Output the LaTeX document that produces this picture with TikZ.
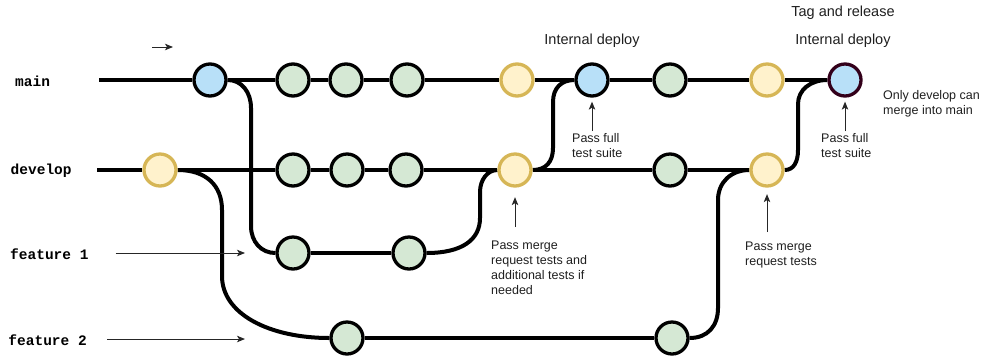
\documentclass[tikz,border=0pt]{standalone}
\usepackage{fontspec}
\setmainfont{Liberation Sans}
\newfontfamily\labelfont{Liberation Mono}
\usetikzlibrary{arrows.meta,backgrounds}
\definecolor{cblue}{HTML}{B8E0F8}
\definecolor{cgreen}{HTML}{D5E8D4}
\definecolor{cyfill}{HTML}{FFF2CC}
\definecolor{cystroke}{HTML}{D6B656}
\definecolor{cdark}{HTML}{33001A}
\begin{document}
\begin{tikzpicture}[x=1pt,y=-1pt,
 commit/.style={circle,draw=black,line width=3.3pt,minimum size=32pt,inner sep=0pt},
 gc/.style={commit,fill=cgreen},
 bc/.style={commit,fill=cblue},
 yc/.style={commit,fill=cyfill,draw=cystroke},
 branch/.style={line width=4pt,draw=black},
 ann/.style={line width=1pt,draw=black!85,-{Stealth[length=8pt,width=6.5pt,inset=2pt]}},
 lbl/.style={font=\labelfont\bfseries\fontsize{14.5}{17}\selectfont,inner sep=0pt,anchor=west},
 note/.style={font=\fontsize{12.5}{15}\selectfont,text=black!88,inner sep=0pt,align=left,anchor=north west},
 head/.style={font=\fontsize{14.5}{17}\selectfont,text=black!88,inner sep=0pt}]
\useasboundingbox (0,0) rectangle (984,360);

% branch labels
\node[lbl] (lm) at (15,81) {main};
\node[lbl] (ld) at (10.5,171) {develop};
\node[lbl] (lf1) at (10,254) {feature 1};
\node[lbl] (lf2) at (8.3,340) {feature 2};

% main commits
\node[bc] (m1) at (210,80) {};
\node[gc] (m2) at (293,80) {};
\node[gc] (m3) at (346,80) {};
\node[gc] (m4) at (407,80) {};
\node[yc] (m5) at (517,80) {};
\node[bc] (m6) at (592,80) {};
\node[gc] (m7) at (670,80) {};
\node[yc] (m8) at (767,80) {};
\node[bc,draw=cdark] (m9) at (845,80) {};

% develop commits
\node[yc] (d1) at (160,170) {};
\node[gc] (d2) at (293,170) {};
\node[gc] (d3) at (347,170) {};
\node[gc] (d4) at (406,170) {};
\node[yc] (d5) at (515,170) {};
\node[gc] (d6) at (670,170) {};
\node[yc] (d7) at (767,170) {};

% feature commits
\node[gc] (f1) at (293,253) {};
\node[gc] (f2) at (409,253) {};
\node[gc] (g1) at (347,338) {};
\node[gc] (g2) at (672,338) {};

% helper coordinates
\coordinate (mstart) at (99,80);
\coordinate (dstart) at (97,170);
\coordinate (c1a) at (251,108);
\coordinate (c1b) at (251,226);
\coordinate (c2a) at (222,210);
\coordinate (c2b) at (222,276);
\coordinate (c3a) at (480,218);
\coordinate (c3b) at (480,192);
\coordinate (c4a) at (553,148);
\coordinate (c4b) at (553,102);
\coordinate (c5a) at (718,308);
\coordinate (c5b) at (718,200);
\coordinate (c6a) at (798,150);
\coordinate (c6b) at (798,104);

\begin{scope}[on background layer]
\draw[branch] (mstart) -- (m1) -- (m2) -- (m3) -- (m4) -- (m5) -- (m6) -- (m7) -- (m8) -- (m9);
\draw[branch] (dstart) -- (d1) -- (d2) -- (d3) -- (d4) -- (d5) -- (d6) -- (d7);
\draw[branch] (f1) -- (f2);
\draw[branch] (g1) -- (g2);
\draw[branch] (m1.east) .. controls +(14,0) and +(0,-16) .. (c1a) -- (c1b) .. controls +(0,16) and +(-14,0) .. (f1.west);
\draw[branch] (d1.east) .. controls +(28,0) and +(0,-25) .. (c2a) -- (c2b) .. controls +(0,38) and +(-60,0) .. (g1.west);
\draw[branch] (f2.east) .. controls +(35,0) and +(0,22) .. (c3a) -- (c3b) .. controls +(0,-12) and +(-10,0) .. (d5.west);
\draw[branch] (d5.east) .. controls +(13,0) and +(0,14) .. (c4a) -- (c4b) .. controls +(0,-14) and +(-13,0) .. (m6.west);
\draw[branch] (g2.east) .. controls +(18,0) and +(0,18) .. (c5a) -- (c5b) .. controls +(0,-18) and +(-18,0) .. (d7.west);
\draw[branch] (d7.east) .. controls +(9,0) and +(0,12) .. (c6a) -- (c6b) .. controls +(0,-14) and +(-17,0) .. (m9.west);
\end{scope}

% headings
\node[head] (t1) at (592,40.5) {Internal deploy};
\node[head] (t2) at (843,40.5) {Internal deploy};
\node[head] (t3) at (843,12.5) {Tag and release};

% notes
\node[note] (n1) at (572,133.5) {Pass full\\test suite};
\node[note] (n2) at (821,133.5) {Pass full\\test suite};
\node[note] (n3) at (883,90.5) {Only develop can\\merge into main};
\node[note] (n4) at (491,240.5) {Pass merge\\request tests and\\additional tests if\\needed};
\node[note] (n5) at (745,241.5) {Pass merge\\request tests};

% annotation arrows
\draw[ann,shorten <=2.5pt,shorten >=4pt] (m6 |- n1.north) -- (m6.south);
\draw[ann,shorten <=2.5pt,shorten >=4pt] (m9 |- n2.north) -- (m9.south);
\draw[ann,shorten <=13.5pt,shorten >=9.5pt] (d5 |- n4.north) -- (d5.south);
\draw[ann,shorten <=9.5pt,shorten >=6.5pt] (d7 |- n5.north) -- (d7.south);

\coordinate (fa1) at (245,253);
\coordinate (fa2) at (245,339);
\draw[ann] ([xshift=27pt]lf1.east |- fa1) -- (fa1);
\draw[ann] ([xshift=20pt]lf2.east |- fa2) -- (fa2);

\coordinate (sa) at (152,47);
\coordinate (sb) at (173,47);
\draw[ann] (sa) -- (sb);
\end{tikzpicture}
\end{document}
